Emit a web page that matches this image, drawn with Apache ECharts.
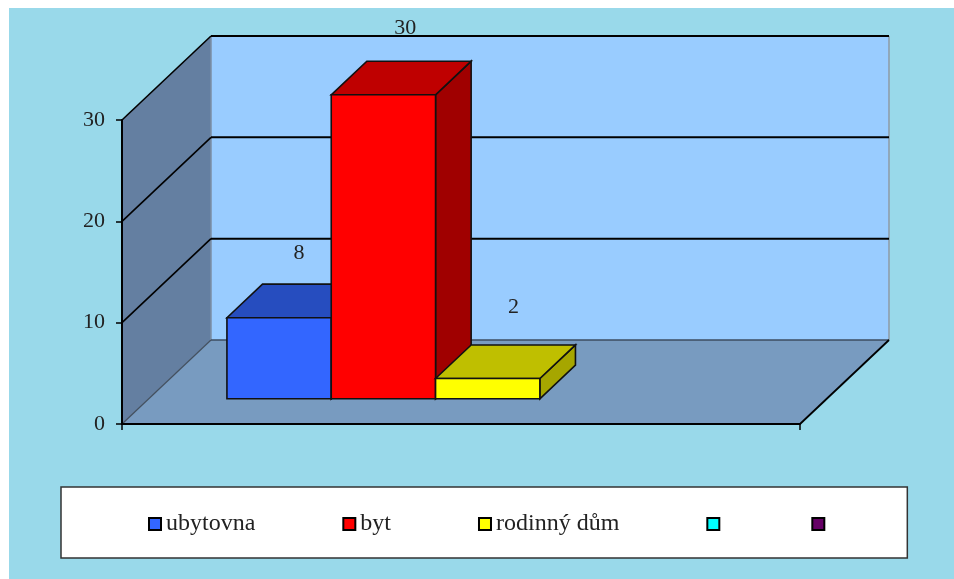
<!DOCTYPE html>
<html>
<head>
<meta charset="utf-8">
<style>
html, body { margin: 0; padding: 0; background: #fff; }
#chart { width: 954px; height: 579px; }
</style>
<script src="https://cdn.jsdelivr.net/npm/echarts@6/dist/echarts.min.js"></script>
</head>
<body>
<div id="chart"></div>
<script>
var categories = [''];
var seriesNames = ['ubytovna', 'byt', 'rodinný dům', '\u200b', '\u200b\u200b'];
var seriesValues = [8, 30, 2, null, null];
var yTicks = [0, 10, 20, 30];

var frontColors = ['#3366FF', '#FF0000', '#FFFF00', '#00FFFF', '#660066'];
var topColors = ['#264DBF', '#BF0000', '#BFBF00', '#00BFBF', '#4D004D'];
var sideColors = ['#1F3D99', '#A00000', '#A6A600', '#009999', '#3D003D'];
// small hand placed nudges of the value labels
var labelNudge = [[2, -31], [4, -33], [8, -38]];

var DEPTH_X = 89, DEPTH_Y = -84;
var BAR_FRONT = 0.3, BAR_BACK = 0.7;

var myChart = echarts.init(document.getElementById('chart'));

function poly(points, fill, stroke, lineWidth) {
    return {
        type: 'polygon',
        shape: { points: points },
        style: { fill: fill, stroke: stroke || null, lineWidth: lineWidth || 0 }
    };
}
function line(x1, y1, x2, y2, stroke, lineWidth) {
    return {
        type: 'line',
        shape: { x1: x1, y1: y1, x2: x2, y2: y2 },
        style: { stroke: stroke, lineWidth: lineWidth }
    };
}

function renderWalls(params, api) {
    var band = api.size([1, 0])[0];
    var c0 = api.coord([0, 0]);
    var c1 = api.coord([0, yTicks[yTicks.length - 1]]);
    var l = c0[0] - band / 2, r = c0[0] + band / 2;
    var b = c0[1], t = c1[1];
    var dx = DEPTH_X, dy = DEPTH_Y;
    var kids = [
        poly([[l + dx, t + dy], [r + dx, t + dy], [r + dx, b + dy], [l + dx, b + dy]], '#99CCFF'),
        poly([[l, t], [l + dx, t + dy], [l + dx, b + dy], [l, b]], '#647FA1'),
        poly([[l, b], [l + dx, b + dy], [r + dx, b + dy], [r, b]], '#789BC0'),
        line(r + dx, t + dy, r + dx, b + dy, '#8E9AA6', 1.5),
        line(l + dx, t + dy, l + dx, b + dy, '#7C8FA6', 1.5),
        line(l, b, l + dx, b + dy, '#44505F', 1.2),
        line(l + dx, b + dy, r + dx, b + dy, '#3C4C60', 1.6),
        line(r, b, r + dx, b + dy, '#000', 1.8)
    ];
    yTicks.slice(1).forEach(function (v) {
        var y = api.coord([0, v])[1];
        kids.push(line(l, y, l + dx, y + dy, '#000', 1.6));
        kids.push(line(l + dx, y + dy, r + dx, y + dy, '#000', 2));
    });
    return { type: 'group', children: kids };
}

function renderBar(params, api) {
    var i = params.seriesIndex - 1;
    var v = api.value(1);
    if (v == null || isNaN(v)) return;
    var band = api.size([1, 0])[0];
    var c0 = api.coord([0, 0]);
    var ct = api.coord([0, v]);
    var w = band / (seriesNames.length + 1.5);
    var x0 = c0[0] - band / 2 + w * (0.75 + i) + DEPTH_X * BAR_FRONT;
    var x1 = x0 + w;
    var yb = c0[1] + DEPTH_Y * BAR_FRONT;
    var yt = ct[1] + DEPTH_Y * BAR_FRONT;
    var dx = DEPTH_X * (BAR_BACK - BAR_FRONT), dy = DEPTH_Y * (BAR_BACK - BAR_FRONT);
    var nudge = labelNudge[i];
    return {
        type: 'group',
        children: [
            poly([[x1, yt], [x1 + dx, yt + dy], [x1 + dx, yb + dy], [x1, yb]], sideColors[i], '#111', 1.6),
            poly([[x0, yt], [x0 + dx, yt + dy], [x1 + dx, yt + dy], [x1, yt]], topColors[i], '#111', 1.6),
            poly([[x0, yt], [x1, yt], [x1, yb], [x0, yb]], frontColors[i], '#111', 1.6),
            {
                type: 'text',
                z2: 50,
                style: {
                    text: String(v),
                    x: (x0 + x1) / 2 + dx / 2 + nudge[0],
                    y: yt + dy + nudge[1],
                    align: 'center',
                    verticalAlign: 'middle',
                    font: '22px "Liberation Serif"',
                    fill: '#222'
                }
            }
        ]
    };
}

var series = [{
    name: 'walls',
    type: 'custom',
    silent: true,
    z: 1,
    data: [[0, 0]],
    encode: { x: 0, y: 1 },
    renderItem: renderWalls
}];
seriesNames.forEach(function (name, i) {
    series.push({
        name: name,
        type: 'custom',
        silent: true,
        z: 2,
        itemStyle: { color: frontColors[i] },
        data: [[0, seriesValues[i]]],
        encode: { x: 0, y: 1 },
        clip: false,
        renderItem: renderBar
    });
});

var option = {
    backgroundColor: '#fff',
    animation: false,
    // the picture has a white strip on its top and left edges
    graphic: [{
        type: 'rect',
        z: -10,
        silent: true,
        shape: { x: 9, y: 8, width: 945, height: 571 },
        style: { fill: '#99D9EA' }
    }],
    grid: { left: 122, top: 120, width: 678, height: 304, containLabel: false },
    xAxis: {
        type: 'category',
        data: categories,
        z: 5,
        axisLine: { lineStyle: { color: '#000', width: 2 } },
        axisTick: { show: true, length: 6, lineStyle: { color: '#000', width: 1.5 } },
        axisLabel: { show: false }
    },
    yAxis: {
        type: 'value',
        min: 0,
        max: 30,
        interval: 10,
        z: 5,
        splitLine: { show: false },
        axisLine: { show: true, lineStyle: { color: '#000', width: 2 } },
        axisTick: { show: true, length: 6, lineStyle: { color: '#000', width: 1.5 } },
        axisLabel: { margin: 17, color: '#222', fontFamily: 'Liberation Serif', fontSize: 22 }
    },
    legend: {
        data: seriesNames,
        left: 61,
        top: 487,
        orient: 'horizontal',
        selectedMode: false,
        icon: 'rect',
        itemWidth: 12,
        itemHeight: 12,
        itemGap: 87,
        padding: [25, 78, 22, 87],
        backgroundColor: '#fff',
        borderColor: '#333',
        borderWidth: 1.5,
        itemStyle: { borderColor: '#000', borderWidth: 2 },
        textStyle: { color: '#222', fontFamily: 'Liberation Serif', fontSize: 24 }
    },
    series: series
};
myChart.setOption(option);
</script>
</body>
</html>
